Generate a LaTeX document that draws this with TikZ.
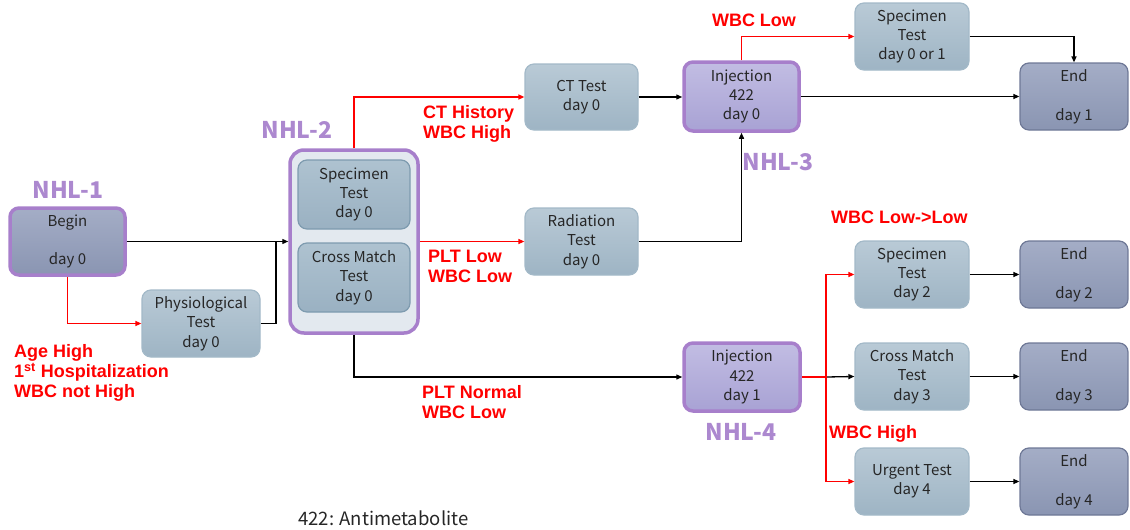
\documentclass[tikz,border=0pt]{standalone}
\usepackage{fontspec}
\setmainfont{Noto Sans CJK JP}
\newfontfamily\redfont{Liberation Sans}
\usetikzlibrary{arrows.meta}
\definecolor{testtop}{HTML}{B9CAD6}
\definecolor{testbot}{HTML}{9EB4C4}
\definecolor{testline}{HTML}{A3B9C8}
\definecolor{innertop}{HTML}{AEC2D0}
\definecolor{innerbot}{HTML}{9AB1C2}
\definecolor{innerline}{HTML}{7E9BAF}
\definecolor{endtop}{HTML}{A4ADC6}
\definecolor{endbot}{HTML}{8A95B2}
\definecolor{endline}{HTML}{6E7896}
\definecolor{injtop}{HTML}{C2BDE3}
\definecolor{injbot}{HTML}{A8A2D4}
\definecolor{purp}{HTML}{A77FCB}
\definecolor{nhl}{HTML}{AC88CF}
\definecolor{contfill}{HTML}{E3E9EF}
\definecolor{myred}{HTML}{FF0000}
\tikzset{
  base/.style={rounded corners=9pt, align=center, inner sep=0pt,
    font=\fontsize{15}{19.3}\selectfont, text=black!85},
  test/.style={base, draw=testline, line width=1.2pt, top color=testtop, bottom color=testbot},
  inner/.style={base, draw=innerline, line width=1.2pt, top color=innertop, bottom color=innerbot},
  endbox/.style={base, draw=endline, line width=1.2pt, top color=endtop, bottom color=endbot},
  startbox/.style={base, draw=purp, line width=3.5pt, top color=endtop, bottom color=endbot},
  injbox/.style={base, draw=purp, line width=3.5pt, top color=injtop, bottom color=injbot},
  contbox/.style={base, draw=purp, line width=3.5pt, fill=contfill, rounded corners=14pt},
  nhllabel/.style={font=\fontsize{23}{26}\selectfont\bfseries, text=nhl, inner sep=0pt},
  cond/.style={font=\redfont\fontsize{18}{20}\selectfont\bfseries, text=myred, align=left, inner sep=0pt, anchor=west},
  blk/.style={draw=black, line width=1.3pt},
  blkarr/.style={blk, -{Triangle[length=6pt,width=5pt]}},
  redl/.style={draw=myred, line width=1.3pt},
  redarr/.style={redl, -{Triangle[length=6pt,width=5pt]}}
}
\begin{document}
\begin{tikzpicture}[x=1pt,y=-1pt]
\useasboundingbox (0,0) rectangle (1130,530);
% nodes
\node[startbox, minimum width=115pt, minimum height=67pt] (begin) at (67.5,241.5) {Begin\\ \\day 0};
\node[test, minimum width=118pt, minimum height=67pt] (phys) at (201,323.5) {Physiological\\Test\\day 0};
\node[contbox, minimum width=128pt, minimum height=183pt] (nhl2) at (354,241.5) {};
\node[inner, minimum width=112pt, minimum height=69pt] (spec0) at (354,194.5) {Specimen\\Test\\day 0};
\node[inner, minimum width=112pt, minimum height=69pt] (cross0) at (354,277.5) {Cross Match\\Test\\day 0};
\node[test, minimum width=113pt, minimum height=66pt] (ct) at (581.5,97) {CT Test\\day 0};
\node[test, minimum width=113pt, minimum height=67pt] (rad) at (581.5,241.5) {Radiation\\Test\\day 0};
\node[injbox, minimum width=115pt, minimum height=69pt] (inj0) at (741.5,96.5) {Injection\\422\\day 0};
\node[test, minimum width=114pt, minimum height=67pt] (spec01) at (912,36.5) {Specimen\\Test\\day 0 or 1};
\node[endbox, minimum width=108pt, minimum height=67pt] (end1) at (1074,96.5) {End\\ \\day 1};
\node[injbox, minimum width=116pt, minimum height=68pt] (inj1) at (742,377) {Injection\\422\\day 1};
\node[test, minimum width=114pt, minimum height=67pt] (spec2) at (912,274.5) {Specimen\\Test\\day 2};
\node[test, minimum width=114pt, minimum height=67pt] (cross3) at (912,376.5) {Cross Match\\Test\\day 3};
\node[test, minimum width=114pt, minimum height=67pt] (urg) at (912,481.5) {Urgent Test\\day 4};
\node[endbox, minimum width=108pt, minimum height=67pt] (end2) at (1074,274.5) {End\\ \\day 2};
\node[endbox, minimum width=108pt, minimum height=67pt] (end3) at (1074,376.5) {End\\ \\day 3};
\node[endbox, minimum width=108pt, minimum height=67pt] (end4) at (1074,481.5) {End\\ \\day 4};
% labels
\node[nhllabel] (l1) at (68,190) {NHL-1};
\node[nhllabel] (l2) at (297,130) {NHL-2};
\node[nhllabel] (l3) at (778,162) {NHL-3};
\node[nhllabel] (l4) at (741,432) {NHL-4};
\node[cond, anchor=center] (c1) at (754,20) {WBC Low};
\node[cond] (c2) at (423,124) {CT History\\WBC High};
\node[cond] (c3) at (428,266) {PLT Low\\WBC Low};
\node[cond] (c4) at (422,402) {PLT Normal\\WBC Low};
\node[cond] (c5) at (14,373) {Age High\\1\textsuperscript{st} Hospitalization\\WBC not High};
\node[cond] (c6) at (831,217) {WBC Low->Low};
\node[cond] (c7) at (829,434) {WBC High};
\node[anchor=west, inner sep=0pt, font=\fontsize{18.5}{20}\selectfont, text=black!85] (note) at (298,518) {422: Antimetabolite};
% coordinates
\coordinate (join) at (276,241.5);
\coordinate (split) at (826,377);
% connectors
\draw[blkarr] (begin.east) -- (nhl2.west);
\draw[blk] (phys.east) -| (join);
\draw[redarr] (begin.south) |- (phys.west);
\draw[redarr] (nhl2.north) |- (ct.west);
\draw[redarr] (nhl2.east) -- (rad.west);
\draw[blkarr] (nhl2.south) |- (inj1.west);
\draw[blkarr] (ct.east) -- (inj0.west |- ct.east);
\draw[blkarr] (rad.east) -| (inj0.south);
\draw[redarr] (inj0.north) |- (spec01.west);
\draw[blkarr] (inj0.east) -- (end1.west);
\draw[blkarr] (spec01.east) -| (end1.north);
\draw[blkarr] (split) -- (cross3.west);
\draw[redl] (inj1.east) -- (split);
\draw[redarr] (split) |- (spec2.west);
\draw[redarr] (split) |- (urg.west);
\draw[blkarr] (spec2.east) -- (end2.west);
\draw[blkarr] (cross3.east) -- (end3.west);
\draw[blkarr] (urg.east) -- (end4.west);
\end{tikzpicture}
\end{document}
